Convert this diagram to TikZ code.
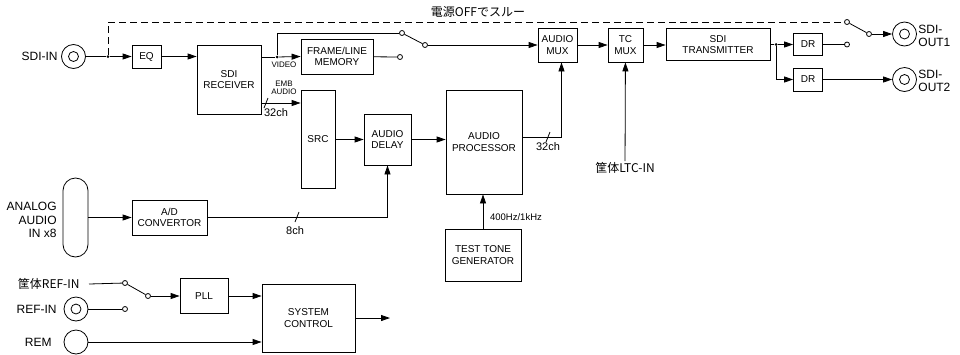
\documentclass[tikz,border=0pt]{standalone}
\usepackage{fontspec}
\setmainfont{Liberation Sans}
\newfontfamily\cjk{Noto Sans CJK JP}
\usetikzlibrary{arrows.meta,positioning}
\tikzset{
  >={Triangle[length=9pt,width=6pt]},
  blk/.style={draw, align=center, font=\fontsize{10}{11.5}\selectfont, inner sep=1pt},
  lbl/.style={font=\fontsize{12}{13.5}\selectfont, inner sep=1pt},
  tag/.style={font=\fontsize{8}{8.5}\selectfont, align=center, inner sep=0pt},
  chn/.style={font=\fontsize{11}{11}\selectfont, inner sep=0pt},
  jack/.style={circle, draw, minimum size=24pt, inner sep=0pt},
  bnc/.style={jack, path picture={\draw (path picture bounding box.center) circle (5pt);}},
  sw/.style={circle, draw, fill=white, minimum size=5pt, inner sep=0pt},
  dot/.style={circle, fill, minimum size=3pt, inner sep=0pt},
  thru/.style={dash pattern=on 7pt off 4pt}
}

\begin{document}
\begin{tikzpicture}[x=1pt, y=-1pt, line width=0.8pt]
  \useasboundingbox (0,0) rectangle (960,354);

  % inputs and outputs
  \node[bnc]  (SDIIN) at (73.5,56.5) {};
  \node[lbl, anchor=east] at (59,56.5) {SDI-IN};
  \node[bnc]  (OUT1) at (904.5,34) {};
  \node[bnc]  (OUT2) at (904.5,79.5) {};
  \node[lbl, anchor=west, align=left] at (917,36) {SDI-\\OUT1};
  \node[lbl, anchor=west, align=left] at (917,81) {SDI-\\OUT2};
  \node[draw, minimum width=25, minimum height=79, rounded corners=12.5pt] (AIN) at (75.5,217.5) {};
  \node[lbl, anchor=east, align=right] at (58,220) {ANALOG\\AUDIO\\IN x8};
  \node[lbl, anchor=east] (REFL) at (81,284) {\cjk 筐体REF-IN};
  \node[bnc]  (REFIN) at (76,309) {};
  \node[lbl, anchor=east] at (58,309) {REF-IN};
  \node[jack] (REM) at (76,342) {};
  \node[lbl, anchor=east] at (53,342) {REM};
  \node[lbl] (LTC) at (625,168) {\cjk 筐体LTC-IN};
  \node[lbl] at (478,12) {\cjk 電源OFFでスルー};

  % blocks
  \node[blk, minimum width=29, minimum height=23] (EQ)    at (146.5,56.5) {EQ};
  \node[blk, minimum width=64, minimum height=69] (RX)    at (229,79.5) {SDI\\RECEIVER};
  \node[blk, minimum width=72, minimum height=35] (FLM)   at (337,56.5) {FRAME/LINE\\MEMORY};
  \node[blk, minimum width=39, minimum height=34] (AMUX)  at (557.5,45) {AUDIO\\MUX};
  \node[blk, minimum width=35, minimum height=34] (TCMUX) at (625.5,45) {TC\\MUX};
  \node[blk, minimum width=104, minimum height=32] (TX)   at (718,44.5) {SDI\\TRANSMITTER};
  \node[blk, minimum width=29, minimum height=22] (DR1)   at (808,44.5) {DR};
  \node[blk, minimum width=29, minimum height=23] (DR2)   at (808,79.5) {DR};
  \node[blk, minimum width=34, minimum height=98] (SRC)   at (318,139) {SRC};
  \node[blk, minimum width=47, minimum height=51] (DLY)   at (387.5,139.5) {AUDIO\\DELAY};
  \node[blk, minimum width=76, minimum height=104] (PROC) at (484,142) {AUDIO\\PROCESSOR};
  \node[blk, minimum width=76, minimum height=52] (TTG)   at (483,255) {TEST TONE\\GENERATOR};
  \node[blk, minimum width=75, minimum height=35] (ADC)   at (169.5,217.5) {A/D\\CONVERTOR};
  \node[blk, minimum width=48, minimum height=35] (PLL)   at (204,296) {PLL};
  \node[blk, minimum width=93, minimum height=68] (SYS)   at (308.5,318) {SYSTEM\\CONTROL};

  % switches and junctions
  \node[dot] (J1) at (108,56.5) {};
  \node[dot] (J2) at (277,57) {};
  \node[dot] (J3) at (776,44.5) {};
  \node[sw] (S1a) at (402,33) {};
  \node[sw] (S1b) at (400,57) {};
  \node[sw] (S1c) at (425,45) {};
  \node[sw] (S2a) at (847,22) {};
  \node[sw] (S2b) at (847,44.5) {};
  \node[sw] (S2c) at (869,34) {};
  \node[sw] (S3a) at (125,283) {};
  \node[sw] (S3b) at (125,309) {};
  \node[sw] (S3c) at (148,296) {};
  \coordinate (CTL) at (390,318);

  % video path
  \draw (SDIIN) -- (J1);
  \draw[->] (J1) -- (EQ);
  \draw[thru] (J1) |- (S2a);
  \draw[->] (EQ) -- (EQ -| RX.west);
  \draw ([yshift=22.5pt]RX.east) -- (J2);
  \draw[->] (J2) -- (FLM.west);
  \draw (J2) |- (S1a);
  \draw (FLM) -- (S1b);
  \draw (S1a) -- (S1c);
  \draw[->] (S1c) -- (AMUX.west |- S1c);
  \draw[->] (AMUX) -- (TCMUX);
  \draw[->] (TCMUX) -- (TCMUX -| TX.west);
  \draw (TX.east |- J3) -- (J3);
  \draw[->] (J3) -- (DR1);
  \draw[->] (J3) |- (DR2);
  \draw (DR1) -- (S2b);
  \draw (S2a) -- (S2c);
  \draw[->] (S2c) -- (OUT1);
  \draw[->] (DR2) -- (OUT2);
  \draw[->] (LTC) -- (TCMUX);
  \node[tag] at (284,65) {VIDEO};

  % audio path
  \draw[->] ([yshift=-23.5pt]RX.east) -- ([yshift=-23.5pt]RX.east -| SRC.west);
  \node[tag] at (284,88) {EMB\\AUDIO};
  \draw (264,108) -- (268,98);
  \node[chn] at (276,113) {32ch};
  \draw[->] (SRC.east |- DLY) -- (DLY);
  \draw[->] (DLY) -- (DLY -| PROC.west);
  \draw[->] ([yshift=5pt]PROC.east) -| ([xshift=4pt]AMUX.south);
  \draw (546,142) -- (550,132);
  \node[chn] at (548,147) {32ch};
  \draw[->] (AIN.east) -- (ADC);
  \draw[->] (ADC) -| (DLY);
  \draw (295,222) -- (299,212);
  \node[chn] at (295,231) {8ch};
  \draw[->] (TTG) -- (TTG |- PROC.south);
  \node[chn, font=\fontsize{9.5}{10}\selectfont] at (516,217) {400Hz/1kHz};

  % reference and control
  \draw ([xshift=8pt]REFL.east) -- (S3a);
  \draw (REFIN) -- (S3b);
  \draw (S3a) -- (S3c);
  \draw[->] (S3c) -- (PLL);
  \draw[->] (PLL) -- (PLL -| SYS.west);
  \draw[->] (REM) -- (REM -| SYS.west);
  \draw[->] (SYS) -- (CTL);
\end{tikzpicture}
\end{document}
